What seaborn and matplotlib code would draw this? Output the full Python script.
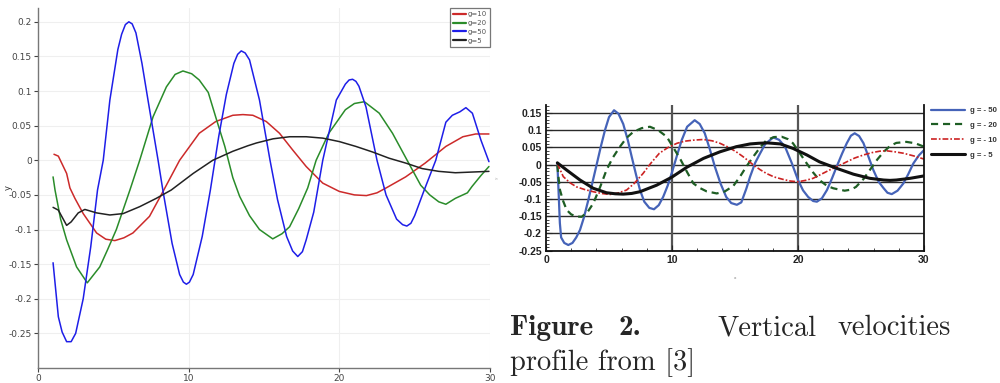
import matplotlib
matplotlib.use("Agg")
import matplotlib.pyplot as plt
from matplotlib.ticker import MultipleLocator, FixedLocator, FuncFormatter
import seaborn as sns

# ---------------- simulated profiles (left panel) ----------------
sim_g10_x = [1.06, 1.35, 1.9, 2.12, 2.45, 3.0, 3.89, 4.5, 5.1, 5.7, 6.3, 7.4, 8.3, 9.4, 10.7,
             11.8, 12.93, 13.6, 14.26, 15.15, 16.03, 16.9, 17.8, 18.9, 20.0, 21.0, 21.8, 22.5,
             23.1, 24.4, 25.7, 27.07, 28.2, 29.05, 29.93]
sim_g10_y = [0.0087, 0.006, -0.019, -0.04, -0.055, -0.077, -0.105, -0.114, -0.116, -0.112, -0.105,
             -0.081, -0.045, 0.0, 0.039, 0.056, 0.065, 0.066, 0.065, 0.056, 0.039, 0.015, -0.009,
             -0.033, -0.045, -0.05, -0.051, -0.047, -0.040, -0.024, -0.004, 0.020, 0.034, 0.038, 0.038]

sim_g20_x = [1.0, 1.13, 1.5, 1.9, 2.56, 3.27, 4.1, 4.6, 5.2, 6.1, 6.75, 7.64, 8.52, 9.1, 9.62,
             10.2, 10.7, 11.3, 11.83, 12.4, 12.93, 13.38, 14.04, 14.7, 15.58, 16.2, 16.7, 17.3,
             17.9, 18.46, 19.3, 20.4, 21.0, 21.66, 22.65, 23.53, 24.6, 25.4, 26.0, 26.6, 27.07,
             27.7, 28.5, 28.8, 29.4, 29.93]
sim_g20_y = [-0.024, -0.043, -0.085, -0.115, -0.154, -0.177, -0.154, -0.13, -0.10, -0.043, 0.0,
             0.063, 0.106, 0.124, 0.129, 0.125, 0.116, 0.098, 0.06, 0.02, -0.025, -0.052, -0.080,
             -0.100, -0.1135, -0.106, -0.096, -0.07, -0.04, 0.0, 0.039, 0.073, 0.082, 0.0846,
             0.068, 0.039, -0.004, -0.036, -0.05, -0.06, -0.0635, -0.055, -0.047, -0.038,
             -0.022, -0.009]

sim_g50_x = [1.0, 1.35, 1.6, 1.9, 2.2, 2.5, 3.0, 3.5, 3.95, 4.33, 4.77, 5.3, 5.55, 5.8, 6.03, 6.25,
             6.5, 6.9, 7.3, 7.97, 8.3, 8.9, 9.4, 9.65, 9.85, 10.05, 10.3, 10.9, 11.44, 12.0, 12.5,
             13.0, 13.25, 13.49, 13.75, 14.04, 14.7, 15.4, 15.9, 16.5, 16.9, 17.24, 17.55, 17.8,
             18.3, 18.9, 19.8, 20.4, 20.65, 20.88, 21.1, 21.3, 21.77, 22.5, 23.1, 23.8, 24.2,
             24.48, 24.75, 25.0, 25.6, 26.4, 27.07, 27.5, 28.0, 28.4, 28.83, 29.4, 29.93]
sim_g50_y = [-0.148, -0.226, -0.248, -0.262, -0.262, -0.25, -0.20, -0.125, -0.043, 0.0, 0.087,
             0.160, 0.182, 0.196, 0.200, 0.197, 0.184, 0.14, 0.087, 0.0, -0.045, -0.12, -0.165,
             -0.176, -0.179, -0.176, -0.165, -0.11, -0.043, 0.035, 0.095, 0.140, 0.153, 0.158,
             0.155, 0.145, 0.087, 0.0, -0.057, -0.11, -0.131, -0.139, -0.132, -0.115, -0.075, 0.0,
             0.087, 0.110, 0.116, 0.117, 0.114, 0.107, 0.077, 0.0, -0.05, -0.085, -0.093, -0.095,
             -0.091, -0.08, -0.045, 0.0, 0.055, 0.065, 0.070, 0.076, 0.068, 0.029, -0.002]

sim_g5_x = [1.0, 1.35, 1.7, 1.9, 2.2, 2.67, 3.11, 3.89, 4.77, 5.65, 6.75, 7.85, 8.84, 10.3, 11.6,
            12.93, 13.93, 14.5, 15.6, 16.7, 17.8, 18.9, 20.0, 21.1, 22.2, 23.3, 24.4, 25.5, 26.6,
            27.7, 28.8, 29.93]
sim_g5_y = [-0.068, -0.072, -0.086, -0.094, -0.089, -0.076, -0.071, -0.076, -0.079, -0.077,
            -0.067, -0.055, -0.043, -0.019, 0.0, 0.013, 0.021, 0.025, 0.031, 0.034, 0.034, 0.032,
            0.027, 0.020, 0.012, 0.003, -0.004, -0.012, -0.016, -0.018, -0.017, -0.016]

sim_labels = ["g=10", "g=20", "g=50", "g=5"]

# ---------------- reference profiles (right panel) ----------------
ref_g50_x = [0.9, 1.0, 1.1, 1.2, 1.45, 1.77, 2.1, 2.4, 2.7, 3.0, 3.36, 3.7, 4.02, 4.35, 4.68, 5.0,
             5.4, 5.75, 6.13, 6.5, 6.8, 7.15, 7.46, 7.8, 8.2, 8.57, 8.95, 9.3, 9.65, 9.97, 10.4,
             10.77, 11.2, 11.8, 12.2, 12.6, 13.0, 13.4, 13.85, 14.3, 14.7, 15.15, 15.5, 15.9,
             16.2, 16.6, 17.0, 17.4, 18.04, 18.5, 18.97, 19.5, 20.0, 20.4, 20.8, 21.2, 21.5, 21.9,
             22.3, 22.7, 23.07, 23.5, 23.87, 24.2, 24.5, 24.85, 25.2, 25.6, 25.98, 26.4, 26.8,
             27.1, 27.44, 27.9, 28.36, 28.75, 29.15, 29.6, 30.0]
ref_g50_y = [0.005, -0.08, -0.17, -0.212, -0.228, -0.234, -0.228, -0.212, -0.19, -0.155, -0.103,
             -0.05, 0.0, 0.052, 0.1, 0.138, 0.158, 0.148, 0.118, 0.07, 0.023, -0.03, -0.074,
             -0.108, -0.126, -0.13, -0.118, -0.094, -0.062, -0.026, 0.027, 0.071, 0.110, 0.129,
             0.118, 0.091, 0.045, -0.006, -0.055, -0.094, -0.112, -0.117, -0.11, -0.07, -0.035,
             0.005, 0.033, 0.06, 0.079, 0.072, 0.052, 0.005, -0.045, -0.075, -0.094, -0.106,
             -0.108, -0.098, -0.074, -0.04, -0.006, 0.032, 0.062, 0.084, 0.091, 0.083, 0.062,
             0.022, -0.016, -0.05, -0.069, -0.082, -0.086, -0.076, -0.055, -0.028, 0.003, 0.027,
             0.042]

ref_g20_x = [0.9, 1.0, 1.11, 1.35, 1.64, 2.0, 2.4, 2.83, 3.3, 3.75, 4.3, 4.8, 5.3, 5.87, 6.4,
             6.93, 7.6, 8.25, 8.9, 9.58, 10.1, 10.7, 11.2, 11.7, 12.2, 12.75, 13.55, 14.2, 14.87,
             15.4, 15.9, 16.45, 17.0, 17.5, 18.1, 18.7, 19.2, 19.6, 20.2, 20.7, 21.2, 21.7, 22.3,
             22.8, 23.7, 24.2, 24.6, 25.2, 25.7, 26.3, 26.8, 27.3, 27.8, 28.6, 29.3, 30.0]
ref_g20_y = [-0.001, -0.04, -0.074, -0.105, -0.132, -0.145, -0.151, -0.152, -0.138, -0.113,
             -0.065, -0.016, 0.02, 0.052, 0.078, 0.095, 0.106, 0.11, 0.1, 0.081, 0.05, 0.013,
             -0.022, -0.055, -0.068, -0.078, -0.084, -0.078, -0.062, -0.035, -0.006, 0.023, 0.05,
             0.071, 0.08, 0.081, 0.074, 0.062, 0.03, 0.003, -0.023, -0.045, -0.062, -0.069,
             -0.076, -0.073, -0.065, -0.042, -0.016, 0.015, 0.037, 0.054, 0.063, 0.066, 0.062,
             0.052]

ref_g10_x = [0.9, 1.37, 1.9, 2.43, 3.1, 3.75, 4.4, 5.07, 5.7, 6.4, 7.0, 7.7, 8.3, 9.0, 9.7, 10.4,
             11.0, 11.7, 12.5, 13.2, 13.8, 14.5, 15.1, 15.6, 16.06, 16.45, 17.0, 17.5, 18.1,
             18.8, 19.4, 20.0, 20.6, 21.2, 21.8, 22.5, 23.2, 23.87, 24.5, 25.2, 25.9, 26.5,
             27.04, 27.7, 28.36, 29.2, 30.0]
ref_g10_y = [0.003, -0.035, -0.053, -0.065, -0.073, -0.079, -0.084, -0.087, -0.083, -0.074,
             -0.055, -0.026, 0.003, 0.033, 0.05, 0.062, 0.068, 0.071, 0.073, 0.069, 0.062, 0.05,
             0.037, 0.024, 0.011, -0.001, -0.015, -0.026, -0.036, -0.043, -0.048, -0.05, -0.046,
             -0.040, -0.029, -0.016, -0.004, 0.008, 0.019, 0.028, 0.035, 0.039, 0.040, 0.037,
             0.033, 0.025, 0.016]

ref_g5_x = [0.9, 1.64, 2.7, 3.75, 4.8, 5.5, 6.13, 6.8, 7.46, 8.78, 9.97, 11.17, 12.5, 13.8, 15.1,
            16.2, 16.9, 17.6, 18.6, 19.6, 20.7, 21.7, 23.07, 24.4, 25.7, 26.8, 27.3, 27.8, 28.9,
            30.0]
ref_g5_y = [0.005, -0.016, -0.045, -0.069, -0.082, -0.085, -0.086, -0.084, -0.079, -0.06, -0.037,
            -0.008, 0.018, 0.037, 0.052, 0.060, 0.062, 0.063, 0.060, 0.047, 0.028, 0.008, -0.011,
            -0.028, -0.040, -0.045, -0.046, -0.045, -0.040, -0.033]

ref_labels = ["g = - 50", "g = - 20", "g = - 10", "g = - 5"]

left_yticks = [-0.25, -0.2, -0.15, -0.1, -0.05, 0, 0.05, 0.1, 0.15, 0.2]
right_yticks = [-0.25, -0.2, -0.15, -0.1, -0.05, 0, 0.05, 0.1, 0.15]
xticks = [0, 10, 20, 30]

sns.set_style("white")
plt.rcParams["axes.unicode_minus"] = False
plt.rcParams["font.family"] = ["DejaVu Sans"]

fig = plt.figure(figsize=(10, 3.83), dpi=100)


def fmt(v, pos=None):
    s = "%g" % round(v, 4)
    return "0" if s in ("-0", "0") else s


# ---------------- left panel ----------------
axL = fig.add_axes([0.038, 0.0392, 0.452, 0.940])
left_series = [
    (sim_g10_x, sim_g10_y, "#cc2a2a"),
    (sim_g20_x, sim_g20_y, "#2a8c2a"),
    (sim_g50_x, sim_g50_y, "#1e1ee8"),
    (sim_g5_x, sim_g5_y, "#222222"),
]
for (xs, ys, col), lab in zip(left_series, sim_labels):
    sns.lineplot(x=xs, y=ys, color=col, lw=1.1, sort=False, estimator=None,
                 label=lab, ax=axL)
axL.set_xlim(0, 30)
axL.set_ylim(-0.3, 0.22)
axL.yaxis.set_major_locator(FixedLocator(left_yticks))
axL.yaxis.set_major_formatter(FuncFormatter(fmt))
axL.xaxis.set_major_locator(FixedLocator(xticks))
axL.grid(True, color="#efefef", lw=0.8)
for side in ("top", "right"):
    axL.spines[side].set_visible(False)
for side in ("left", "bottom"):
    axL.spines[side].set_color("#777777")
    axL.spines[side].set_linewidth(1.0)
axL.tick_params(axis="both", labelsize=6.5, colors="#444444", length=3, width=0.8,
                pad=1.5, direction="out")
axL.tick_params(axis="both", left=True, bottom=True)
axL.set_ylabel("y", fontsize=6, color="#333333")
axL.yaxis.set_label_coords(-0.055, 0.5)
axL.set_xlabel("")
legL = axL.legend(loc="upper right", bbox_to_anchor=(1.0, 1.0), borderaxespad=0,
                  fontsize=5, frameon=True, fancybox=False, handlelength=1.8,
                  handletextpad=0.25, borderpad=0.45, labelspacing=0.42)
legL.get_frame().set_edgecolor("#555555")
legL.get_frame().set_linewidth(0.9)
for line in legL.get_lines():
    line.set_linewidth(1.6)
for t in legL.get_texts():
    t.set_color("#555555")

# ---------------- right panel ----------------
axR = fig.add_axes([0.546, 0.3446, 0.378, 0.381])
right_series = [
    (ref_g50_x, ref_g50_y, "#4563b8", "-", 1.6),
    (ref_g20_x, ref_g20_y, "#1e5e24", (0, (3.2, 2.2)), 1.6),
    (ref_g10_x, ref_g10_y, "#cc2222", (0, (3.5, 1.2, 1.0, 1.2)), 1.2),
    (ref_g5_x, ref_g5_y, "#111111", "-", 2.2),
]
for (xs, ys, col, ls, lw), lab in zip(right_series, ref_labels):
    sns.lineplot(x=xs, y=ys, color=col, lw=lw, linestyle=ls, sort=False,
                 estimator=None, label=lab, ax=axR)
axR.set_xlim(0, 30)
axR.set_ylim(-0.2515, 0.173)
axR.yaxis.set_major_locator(FixedLocator(right_yticks))
axR.yaxis.set_major_formatter(FuncFormatter(fmt))
axR.yaxis.set_minor_locator(MultipleLocator(0.01))
axR.xaxis.set_major_locator(FixedLocator(xticks))
axR.xaxis.set_minor_locator(MultipleLocator(2))
for yv in right_yticks:
    axR.axhline(yv, color="#2a2a2a", lw=1.0, zorder=0.5)
for xv in (10, 20):
    axR.axvline(xv, color="#555555", lw=1.6, zorder=0.5)
axR.spines["top"].set_visible(False)
for side in ("left", "bottom", "right"):
    axR.spines[side].set_color("#111111")
    axR.spines[side].set_linewidth(1.3)
axR.tick_params(axis="both", which="major", direction="in", length=4, width=0.8,
                labelsize=7.5, pad=3, left=True, bottom=True)
axR.tick_params(axis="both", which="minor", direction="in", length=2.5, width=0.6,
                left=True, bottom=True)
for lbl in axR.get_xticklabels() + axR.get_yticklabels():
    lbl.set_fontweight("bold")
    lbl.set_fontfamily("Liberation Sans")
    lbl.set_color("#222222")
axR.set_xlabel("x", fontsize=3, color="#777777", labelpad=8)
axR.set_ylabel("y", fontsize=3, color="#aaaaaa", labelpad=14)
axR.legend_.remove()
handles, labels = axR.get_legend_handles_labels()
legR = fig.legend(handles, labels, loc="upper left", bbox_to_anchor=(0.927, 1 - 103 / 383),
                  frameon=False, handlelength=4.4, handletextpad=0.6, borderpad=0,
                  labelspacing=0.95, prop={"family": "Liberation Sans", "weight": "bold",
                                           "size": 5.6})
for t in legR.get_texts():
    t.set_color("#333333")

# ---------------- caption ----------------
cap_y1 = 1 - 335 / 383
cap_y2 = 1 - 370 / 383
fig.text(0.510, cap_y1, "Figure", fontfamily="cmb10", fontsize=21, va="baseline")
fig.text(0.618, cap_y1, "2.", fontfamily="cmb10", fontsize=21, va="baseline")
fig.text(0.717, cap_y1, "Vertical", fontfamily="cmr10", fontsize=20.5, va="baseline")
fig.text(0.837, cap_y1, "velocities", fontfamily="cmr10", fontsize=20.5, va="baseline")
fig.text(0.510, cap_y2, "profile from [3]", fontfamily="cmr10", fontsize=20.5, va="baseline")

fig.savefig("out.png", dpi=100)
